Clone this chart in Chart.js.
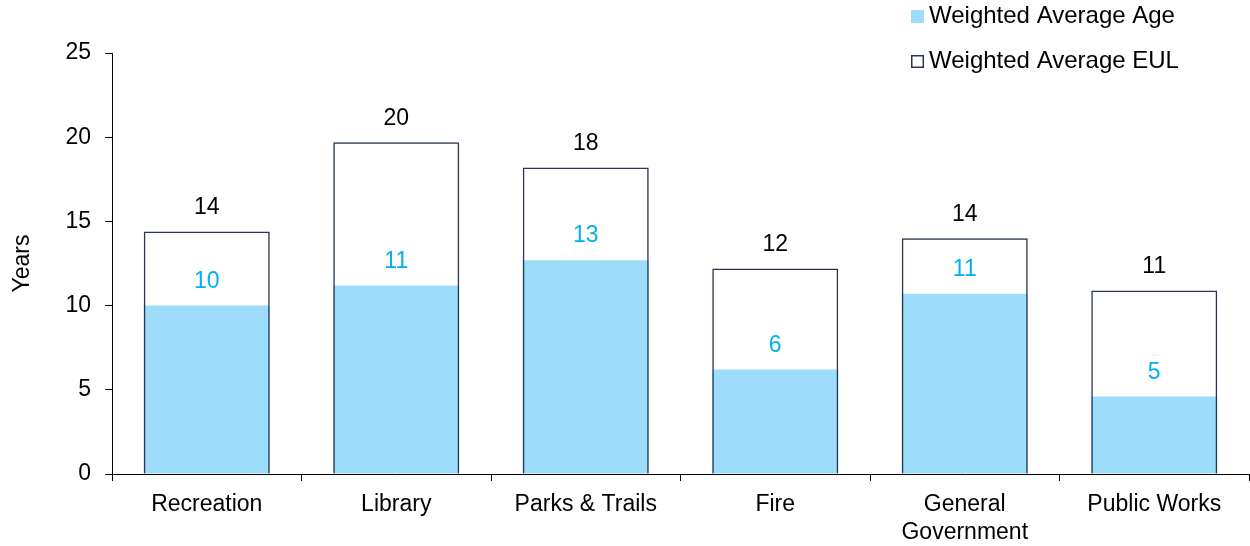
<!DOCTYPE html>
<html>
<head>
<meta charset="utf-8">
<script src="https://cdn.jsdelivr.net/npm/chart.js@4.4.1/dist/chart.umd.min.js"></script>
<style>
  html, body { margin: 0; padding: 0; background: #fff; }
</style>
</head>
<body>
<canvas id="myChart" width="1250" height="546"></canvas>
<script>
// asset categories and weighted averages (years)
const categories = ['Recreation', 'Library', 'Parks & Trails', 'Fire', ['General', 'Government'], 'Public Works'];
const avgAge = [10.0, 11.2, 12.7, 6.2, 10.7, 4.6];
const avgEul = [14.4, 19.7, 18.2, 12.2, 14.0, 10.9];
const yTicks = [0, 5, 10, 15, 20, 25];

const FONT = '"Liberation Sans", Arial, sans-serif';
const NAVY = '#2a3753';
const BLUE = '#9edcfc';

// rounded values written above each bar top
const valueLabels = {
  id: 'valueLabels',
  afterDatasetsDraw(chart) {
    const ctx = chart.ctx;
    ctx.save();
    ctx.font = '23px ' + FONT;
    ctx.textAlign = 'center';
    ctx.textBaseline = 'middle';
    chart.data.datasets.forEach((ds, i) => {
      const meta = chart.getDatasetMeta(i);
      meta.data.forEach((bar, j) => {
        ctx.fillStyle = ds.labelColor;
        ctx.fillText(Math.round(ds.data[j]), bar.x, bar.y - 24);
      });
    });
    ctx.restore();
  }
};

// stacked legend in the top right corner
const cornerLegend = {
  id: 'cornerLegend',
  afterDraw(chart) {
    const ctx = chart.ctx;
    ctx.save();
    ctx.font = '24px ' + FONT;
    ctx.textBaseline = 'middle';
    chart.data.datasets.forEach((ds, i) => {
      const y = 16.5 + i * 45;
      ctx.fillStyle = ds.legendFill;
      ctx.fillRect(911, y - 6.5, 13, 13);
      if (ds.borderWidth) {
        ctx.strokeStyle = NAVY;
        ctx.lineWidth = 1.5;
        ctx.strokeRect(911.75, y - 5.75, 11.5, 11.5);
      }
      ctx.fillStyle = '#000';
      ctx.fillText(ds.label, 929, y);
    });
    ctx.restore();
  }
};

const config = {
  type: 'bar',
  data: {
    labels: categories,
    datasets: [
      {
        label: 'Weighted Average Age',
        data: avgAge,
        backgroundColor: BLUE,
        borderWidth: 0,
        order: 2,
        labelColor: '#00b0f0',
        legendFill: BLUE
      },
      {
        label: 'Weighted Average EUL',
        data: avgEul,
        backgroundColor: 'rgba(255,255,255,0)',
        borderColor: NAVY,
        borderWidth: 1.5,
        order: 1,
        labelColor: '#000',
        legendFill: '#fff'
      }
    ]
  },
  options: {
    responsive: false,
    animation: false,
    layout: { padding: { top: 53, right: 1, bottom: 0, left: 0 } },
    categoryPercentage: 1,
    barPercentage: 0.665,
    plugins: {
      legend: { display: false },
      tooltip: { enabled: false }
    },
    scales: {
      x: {
        stacked: true,
        grid: { drawOnChartArea: false, tickLength: 7, color: '#000', offset: true },
        border: { color: '#000', width: 1 },
        ticks: { color: '#000', font: { family: FONT, size: 23 }, padding: 10, maxRotation: 0 },
        afterFit(scale) { scale.height = 72; }
      },
      y: {
        stacked: false,
        min: yTicks[0],
        max: yTicks[yTicks.length - 1],
        afterBuildTicks(scale) { scale.ticks = yTicks.map(v => ({ value: v })); },
        grid: { drawOnChartArea: false, tickLength: 7, color: '#000' },
        border: { color: '#000', width: 1 },
        ticks: { color: '#000', font: { family: FONT, size: 23 }, padding: 14 },
        title: {
          display: true,
          text: 'Years',
          color: '#000',
          font: { family: FONT, size: 23 },
          padding: { top: 9, bottom: 0 }
        },
        afterFit(scale) { scale.width = 112; }
      }
    }
  },
  plugins: [valueLabels, cornerLegend]
};

const myChart = new Chart(document.getElementById('myChart'), config);
</script>
</body>
</html>
